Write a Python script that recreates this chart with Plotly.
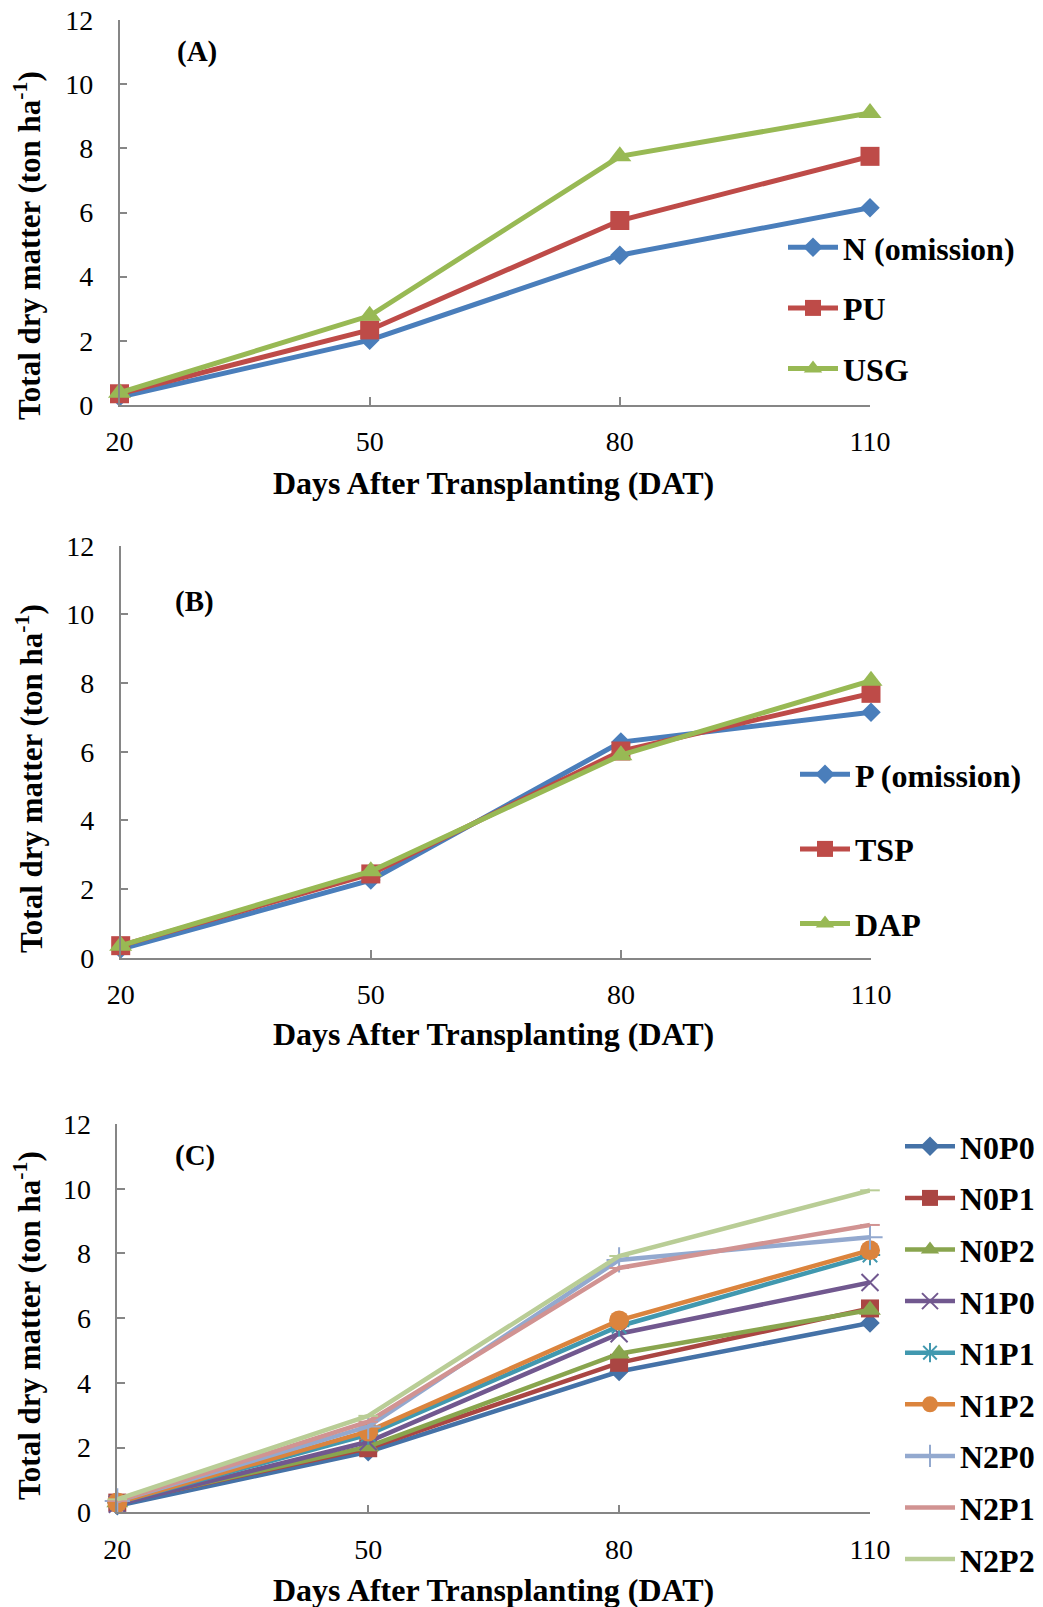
import plotly.graph_objects as go

# ---------------- data ----------------
days = [20, 50, 80, 110]
y_ticks = [0, 2, 4, 6, 8, 10, 12]

# Panel A
a_names = ["N (omission)", "PU", "USG"]
a_n_omission = [0.25, 2.02, 4.67, 6.15]
a_pu = [0.35, 2.34, 5.75, 7.75]
a_usg = [0.38, 2.78, 7.75, 9.1]

# Panel B
b_names = ["P (omission)", "TSP", "DAP"]
b_p_omission = [0.25, 2.26, 6.28, 7.15]
b_tsp = [0.35, 2.44, 6.02, 7.7]
b_dap = [0.35, 2.52, 5.9, 8.07]

# Panel C
c_names = ["N0P0", "N0P1", "N0P2", "N1P0", "N1P1", "N1P2", "N2P0", "N2P1", "N2P2"]
c_n0p0 = [0.2, 1.87, 4.35, 5.85]
c_n0p1 = [0.3, 1.98, 4.62, 6.3]
c_n0p2 = [0.3, 2.03, 4.9, 6.25]
c_n1p0 = [0.25, 2.18, 5.52, 7.1]
c_n1p1 = [0.3, 2.4, 5.75, 7.95]
c_n1p2 = [0.3, 2.5, 5.93, 8.1]
c_n2p0 = [0.35, 2.65, 7.8, 8.5]
c_n2p1 = [0.35, 2.8, 7.55, 8.88]
c_n2p2 = [0.4, 2.98, 7.92, 9.95]

FONT = "Liberation Serif"
AXC = "#868686"

fig = go.Figure()

def add(x, y, name, color, symbol, size, xa, ya, legend, width=5, mline=None):
    marker = dict(symbol=symbol, size=size, color=color)
    if mline:
        marker["line"] = dict(color=color, width=mline)
    fig.add_trace(go.Scatter(
        x=x, y=y, name=name, mode="lines+markers",
        line=dict(color=color, width=width), marker=marker,
        xaxis=xa, yaxis=ya, legend=legend, legendgroup=legend + name,
        cliponaxis=False, showlegend=True))

# Panel A
add(days, a_n_omission, a_names[0], "#4A7EBB", "diamond", 15, "x", "y", "legend")
add(days, a_pu, a_names[1], "#BE4B48", "square", 19, "x", "y", "legend")
add(days, a_usg, a_names[2], "#98B954", "triangle-up", 20, "x", "y", "legend")

# Panel B
add(days, b_p_omission, b_names[0], "#4A7EBB", "diamond", 15, "x2", "y2", "legend2")
add(days, b_tsp, b_names[1], "#BE4B48", "square", 19, "x2", "y2", "legend2")
add(days, b_dap, b_names[2], "#98B954", "triangle-up", 20, "x2", "y2", "legend2")

# Panel C
c_series = [c_n0p0, c_n0p1, c_n0p2, c_n1p0, c_n1p1, c_n1p2, c_n2p0, c_n2p1, c_n2p2]
c_colors = ["#4572A7", "#AA4643", "#89A54E", "#71588F", "#4198AF", "#DB843D",
            "#93A9CF", "#D19392", "#B9CD96"]
c_symbols = ["diamond", "square", "triangle-up", "x-thin-open", "asterisk-open",
             "circle", "cross-thin-open", "line-ew-open", "line-ew-open"]
c_sizes = [15, 18, 19, 17, 17, 20, 18, 14, 14]
for nm, ys, col, sym, sz in zip(c_names, c_series, c_colors, c_symbols, c_sizes):
    ml = 2 if sym.endswith("-open") else None
    add(days, ys, nm, col, sym, sz, "x3", "y3", "legend3", width=4.5, mline=ml)

W, H = 1043, 1607

def px_x(p):
    return p / W

def px_y(p):
    return 1 - p / H

axis_common = dict(
    showline=True, linecolor=AXC, linewidth=1.5,
    ticks="inside", ticklen=8, tickcolor=AXC, tickwidth=1.5,
    showgrid=False, zeroline=False,
    tickfont=dict(family=FONT, size=28, color="black"),
    automargin=False,
)

domains = {
    "": ([119.5, 870], [20, 405]),
    "2": ([120.7, 871], [545.7, 957.7]),
    "3": ([117.3, 870], [1124, 1512.3]),
}
layout = {}
for k, (xd, yd) in domains.items():
    layout["xaxis" + k] = dict(
        axis_common, domain=[px_x(xd[0]), px_x(xd[1])], range=[20, 110],
        tickvals=days, ticktext=[str(d) for d in days], anchor="y" + k,
        ticklabelstandoff=11)
    layout["yaxis" + k] = dict(
        axis_common, domain=[px_y(yd[1]), px_y(yd[0])], range=[0, 12],
        tickvals=y_ticks, anchor="x" + k, ticklabelstandoff=19)

legend_common = dict(
    font=dict(family=FONT, size=32, color="black", weight="bold"),
    bgcolor="rgba(0,0,0,0)", traceorder="grouped", xanchor="left", yanchor="top",
    itemwidth=50,
)
layout["legend"] = dict(legend_common, x=px_x(783), y=px_y(220), tracegroupgap=16)
layout["legend2"] = dict(legend_common, x=px_x(795), y=px_y(747), tracegroupgap=30)
layout["legend3"] = dict(legend_common, x=px_x(900), y=px_y(1119), tracegroupgap=7)

anns = []
for txt, (x, y) in zip(["(A)", "(B)", "(C)"], [(197, 52), (194.5, 601.7), (195, 1155)]):
    anns.append(dict(text="<b>%s</b>" % txt, x=px_x(x), y=px_y(y), xref="paper", yref="paper",
                     showarrow=False, xanchor="center", yanchor="middle",
                     font=dict(family=FONT, size=29, color="black")))
for y in [483, 1034, 1590]:
    anns.append(dict(text="<b>Days After Transplanting (DAT)</b>", x=px_x(493.5), y=px_y(y),
                     xref="paper", yref="paper", showarrow=False, xanchor="center",
                     yanchor="middle", font=dict(family=FONT, size=32, color="black")))
for x, y in [(27, 246), (30, 779), (27, 1326)]:
    anns.append(dict(text="<b>Total dry matter (ton ha<sup>-1</sup>)</b>", x=px_x(x), y=px_y(y),
                     xref="paper", yref="paper", showarrow=False, textangle=-90,
                     xanchor="center", yanchor="middle",
                     font=dict(family=FONT, size=31, color="black")))

fig.update_layout(
    width=W, height=H, margin=dict(l=0, r=0, t=0, b=0),
    paper_bgcolor="white", plot_bgcolor="white",
    annotations=anns, **layout,
)

fig.write_html("out.html")
